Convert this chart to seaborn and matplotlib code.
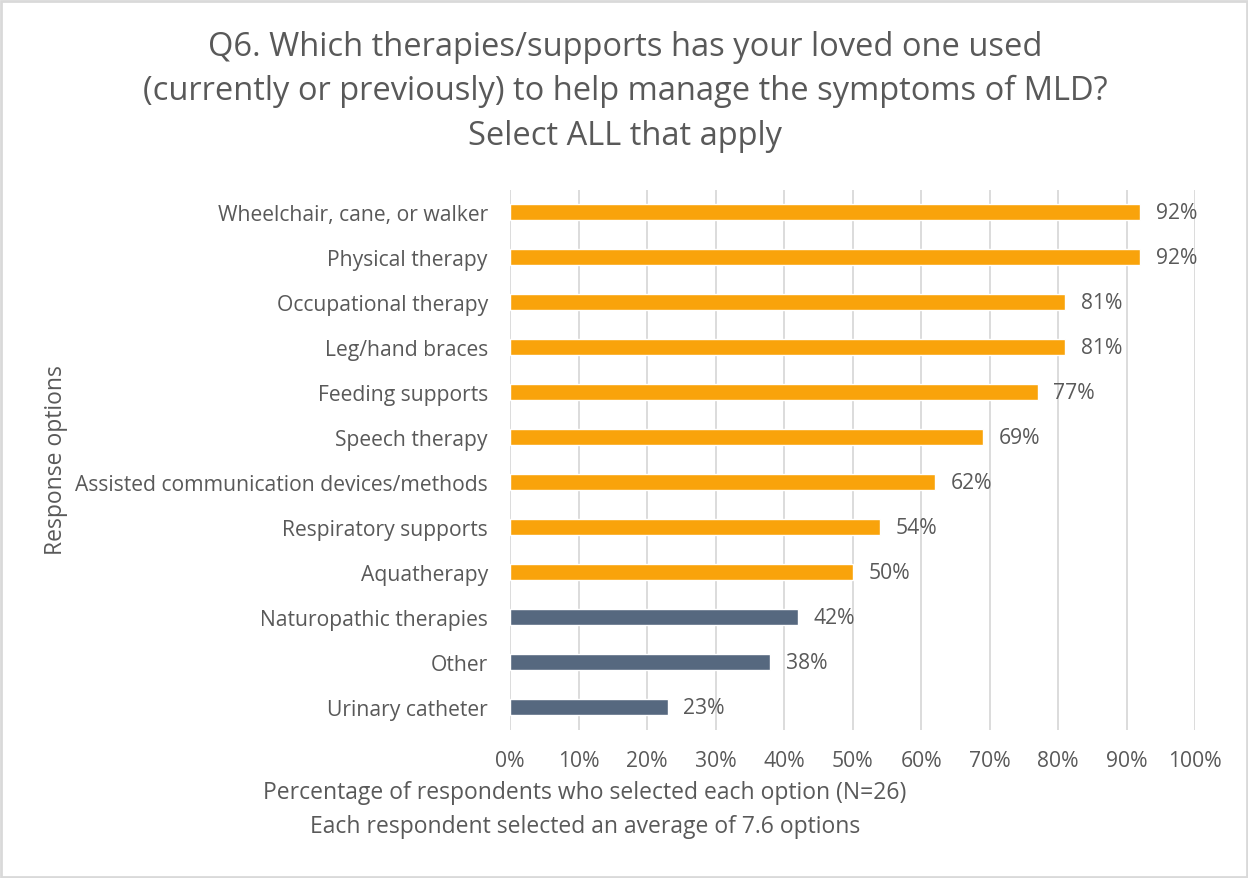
import matplotlib
matplotlib.use("Agg")
import matplotlib.pyplot as plt
import seaborn as sns
import pandas as pd
from matplotlib.patches import Rectangle

# Survey responses (share of respondents, %)
options = [
    "Wheelchair, cane, or walker",
    "Physical therapy",
    "Occupational therapy",
    "Leg/hand braces",
    "Feeding supports",
    "Speech therapy",
    "Assisted communication devices/methods",
    "Respiratory supports",
    "Aquatherapy",
    "Naturopathic therapies",
    "Other",
    "Urinary catheter",
]
percent = [92, 92, 81, 81, 77, 69, 62, 54, 50, 42, 38, 23]
group = ["majority"] * 9 + ["minority"] * 3
x_ticks = [0, 10, 20, 30, 40, 50, 60, 70, 80, 90, 100]
x_tick_labels = [f"{t}%" for t in x_ticks]

ORANGE = "#F9A30B"
SLATE = "#56687F"
TEXT = "#595959"
GRID = "#D9D9D9"

sns.set_theme(style="white")
plt.rcParams["font.family"] = ["Open Sans", "DejaVu Sans"]

df = pd.DataFrame({"option": options, "percent": percent, "group": group})

fig = plt.figure(figsize=(12.48, 8.79), dpi=100)
ax = fig.add_axes([0.4087, 0.1689, 0.5489, 0.6143])

sns.barplot(
    data=df, x="percent", y="option", hue="group",
    palette={"majority": ORANGE, "minority": SLATE},
    orient="h", width=0.36, dodge=False, legend=False, ax=ax,
    saturation=1, zorder=3,
)

FS = 15.2
AS = 16.5

ax.set_xlim(0, 100)
ax.set_ylim(len(options) - 0.5, -0.5)
ax.set_xticks(x_ticks)
ax.set_xticklabels(x_tick_labels)
ax.xaxis.grid(True, color=GRID, linewidth=1.3, zorder=0)
ax.set_axisbelow(True)
for s in ax.spines.values():
    s.set_visible(False)
ax.tick_params(axis="both", length=0, labelsize=FS, labelcolor=TEXT)
ax.tick_params(axis="x", pad=15)
ax.tick_params(axis="y", pad=16)
ax.set_xlabel("")
ax.set_ylabel("Response options", fontsize=AS, color=TEXT)
ax.yaxis.set_label_coords(-0.645, 0.5)

for i, v in enumerate(percent):
    ax.text(v + 2.3, i, f"{v}%", va="center", ha="left",
            fontsize=FS, color=TEXT)

TS = 23.5
fig.text(0.501, 0.946, "Q6. Which therapies/supports has your loved one used",
         ha="center", va="center", fontsize=TS, color=TEXT)
fig.text(0.501, 0.896, "(currently or previously) to help manage the symptoms of MLD?",
         ha="center", va="center", fontsize=TS, color=TEXT)
fig.text(0.501, 0.845, "Select ALL that apply",
         ha="center", va="center", fontsize=TS, color=TEXT)

fig.text(0.4688, 1 - 793 / 879, "Percentage of respondents who selected each option (N=26)",
         ha="center", va="center", fontsize=AS, color=TEXT)
fig.text(0.4688, 1 - 827 / 879, "Each respondent selected an average of 7.6 options",
         ha="center", va="center", fontsize=AS, color=TEXT)

fig.patches.append(Rectangle((0.001, 0.001), 0.998, 0.997, transform=fig.transFigure,
                             fill=False, edgecolor=GRID, linewidth=2))

fig.savefig("out.png", dpi=100, facecolor="white")
